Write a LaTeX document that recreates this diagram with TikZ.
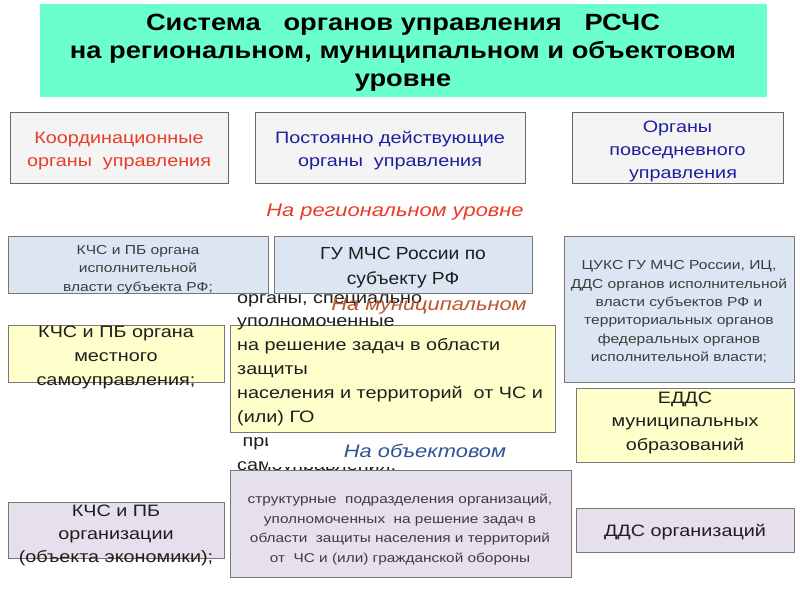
\documentclass[tikz,border=0pt]{standalone}
\usepackage{fontspec}
\setmainfont{Liberation Sans}[FakeStretch=1.2]
\newfontfamily\titlefont{Liberation Sans}[FakeStretch=1.16]
\newfontfamily\gufont{Liberation Sans}[FakeStretch=1.1]
\definecolor{titlegreen}{RGB}{107,255,204}
\definecolor{hdrfill}{RGB}{244,244,244}
\definecolor{bluefill}{RGB}{220,230,242}
\definecolor{yellowfill}{RGB}{255,255,204}
\definecolor{lavfill}{RGB}{230,224,236}
\definecolor{edge}{RGB}{120,120,120}
\definecolor{redtxt}{RGB}{232,60,40}
\definecolor{bluetxt}{RGB}{30,30,160}
\definecolor{munitxt}{RGB}{190,85,45}
\definecolor{objtxt}{RGB}{47,84,150}
\definecolor{bodytxt}{RGB}{30,30,30}
\definecolor{greytxt}{RGB}{60,60,60}
\tikzset{
  boxbase/.style={draw=edge, line width=0.8pt, inner sep=0pt, anchor=north west},
  hdrbox/.style={boxbase, fill=hdrfill, draw=black!60},
  bluebox/.style={boxbase, fill=bluefill},
  yelbox/.style={boxbase, fill=yellowfill},
  lavbox/.style={boxbase, fill=lavfill},
  txt/.style={align=center, inner sep=0pt, text=bodytxt},
  levellabel/.style={inner sep=0pt, font=\fontsize{18.2}{21}\selectfont\itshape}
}
\begin{document}
\begin{tikzpicture}[x=1pt,y=-1pt]
\useasboundingbox (0,0) rectangle (800,600);
% title
\node[boxbase, draw=none, fill=titlegreen, minimum width=727pt, minimum height=93pt] (title) at (40,4) {};
\node[txt, text=black, font=\titlefont\fontsize{23.5}{28}\selectfont\bfseries] (titletxt) at (403,53)
 {Система \ \ органов управления \ \ РСЧС\\на региональном, муниципальном и объектовом\\уровне};
% header row
\node[hdrbox, minimum width=218pt, minimum height=71pt] (A) at (10,112) {};
\node[txt, text=redtxt, font=\fontsize{16.5}{23}\selectfont] (Atxt) at (119,151) {Координационные\\органы \ управления};
\node[hdrbox, minimum width=270pt, minimum height=71pt] (B) at (255,112) {};
\node[txt, text=bluetxt, font=\fontsize{16.5}{23}\selectfont] (Btxt) at (390,151) {Постоянно действующие\\органы \ управления};
\node[hdrbox, minimum width=211pt, minimum height=71pt] (C) at (572,112) {};
\node[txt, text=bluetxt, font=\fontsize{16.5}{23}\selectfont] (Ctxt) at (677.5,151) {Органы\\повседневного\\\ \ управления};
\node[levellabel, text=redtxt] (reg) at (395,212) {На региональном уровне};
% regional row
\node[bluebox, minimum width=260pt, minimum height=57pt] (D) at (8,236) {};
\node[txt, text=greytxt, font=\fontsize{13}{18.5}\selectfont] (Dtxt) at (138,269.5) {КЧС и ПБ органа\\исполнительной\\власти субъекта РФ;};
\node[bluebox, minimum width=258pt, minimum height=57pt] (E) at (274,236) {};
\node[txt, font=\gufont\fontsize{17.5}{25}\selectfont] (Etxt) at (403,268) {ГУ МЧС России по\\субъекту РФ};
\node[bluebox, minimum width=230pt, minimum height=146pt] (F) at (564,236) {};
\node[txt, text=greytxt, font=\fontsize{13}{18.4}\selectfont] (Ftxt) at (679,312) {ЦУКС ГУ МЧС России, ИЦ,\\ДДС органов исполнительной\\власти субъектов РФ и\\территориальных органов\\федеральных органов\\исполнительной власти;};
% municipal row
\node[yelbox, minimum width=216pt, minimum height=57pt] (G) at (8,325) {};
\node[txt, font=\fontsize{16.5}{24}\selectfont] (Gtxt) at (116,357) {КЧС и ПБ органа\\местного\\самоуправления;};
\node[yelbox, minimum width=325pt, minimum height=107pt] (H) at (230,325) {};
\node[txt, align=left, anchor=west, font=\fontsize{16.5}{23.9}\selectfont] (Htxt) at (237,384)
 {органы, специально\\уполномоченные\\на решение задач в области\\защиты\\населения и территорий \ от ЧС и\\(или) ГО\\\ при органах местного\\самоуправления;};
\node[levellabel, text=munitxt] (mun) at (429,306) {На муниципальном};
\node[yelbox, minimum width=218pt, minimum height=74pt] (I) at (576,388) {};
\node[txt, font=\fontsize{16.5}{23.5}\selectfont] (Itxt) at (685,422.5) {ЕДДС\\муниципальных\\образований};
% object row
\node[boxbase, draw=none, fill=white, minimum width=248pt, minimum height=34pt] (objbg) at (268,433) {};
\node[levellabel, text=objtxt] (obj) at (425,451) {На объектовом};
\node[lavbox, minimum width=216pt, minimum height=56pt] (J) at (8,502) {};
\node[txt, font=\fontsize{16.5}{23}\selectfont] (Jtxt) at (116,535) {КЧС и ПБ\\организации\\(объекта экономики);};
\node[lavbox, minimum width=341pt, minimum height=107pt] (K) at (230,470) {};
\node[txt, text=greytxt, font=\fontsize{12.8}{19.7}\selectfont] (Ktxt) at (400,529.5) {структурные \ подразделения организаций,\\уполномоченных \ на решение задач в\\области \ защиты населения и территорий\\от \ ЧС и (или) гражданской обороны};
\node[lavbox, minimum width=218pt, minimum height=44pt] (L) at (576,508) {};
\node[txt, font=\fontsize{16.5}{20}\selectfont] (Ltxt) at (685,532) {ДДС организаций};
\end{tikzpicture}
\end{document}
